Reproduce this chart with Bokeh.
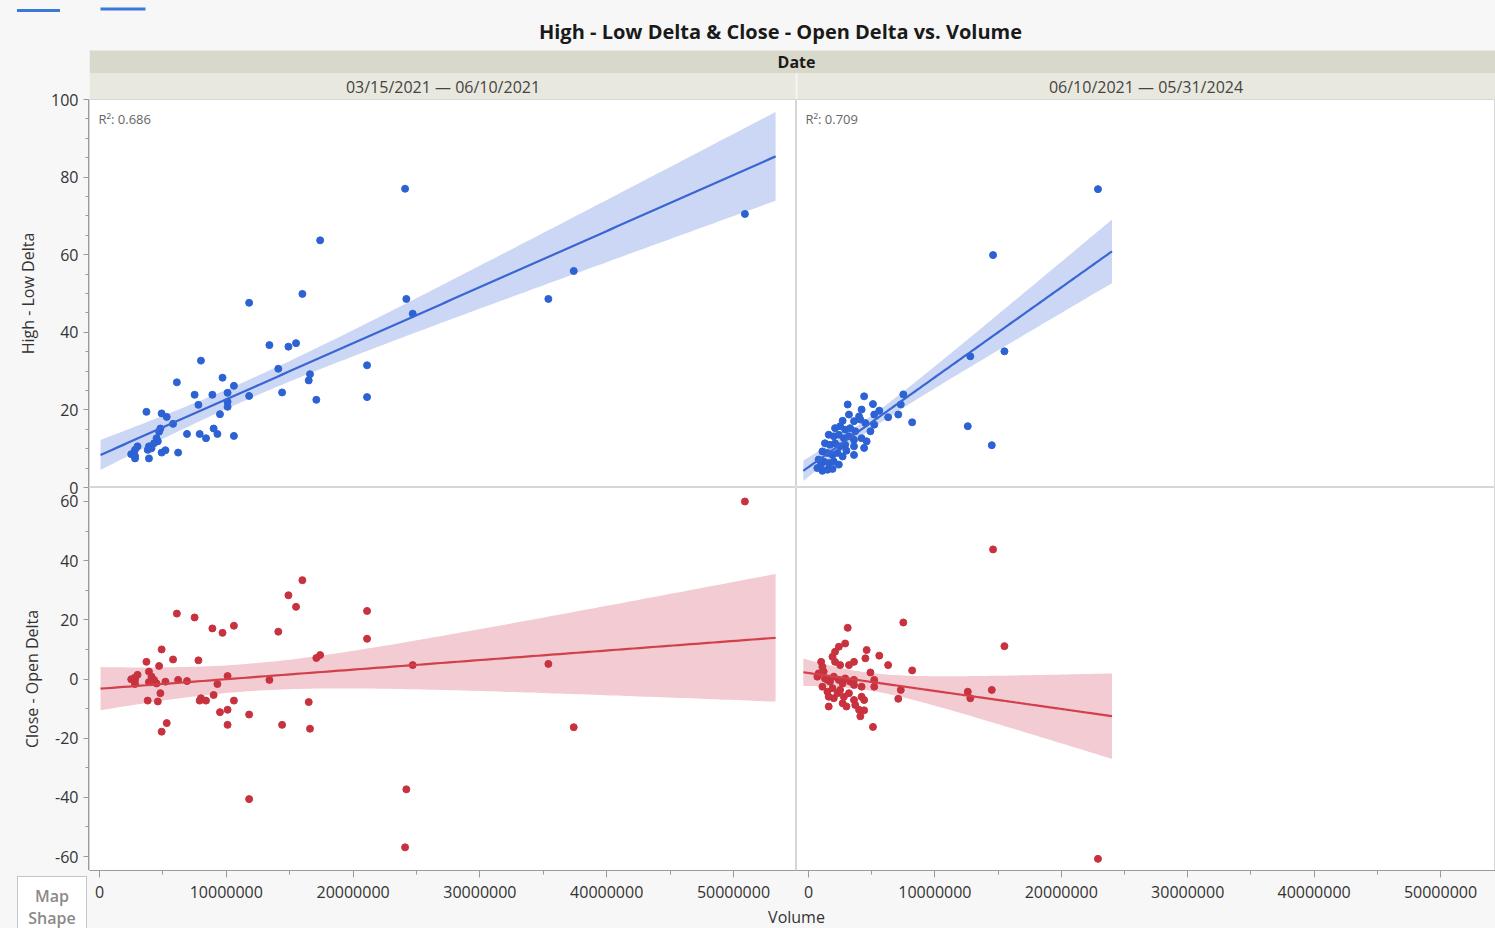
import numpy as np
from bokeh.plotting import figure
from bokeh.models import Range1d, SingleIntervalTicker, BasicTickFormatter, PrintfTickFormatter, Label, Div
from bokeh.layouts import row, column
from bokeh.embed import file_html
from bokeh.resources import INLINE
from bokeh.core.properties import value

FONT = "Open Sans"

# ---------------- texts ----------------
title_text = "High - Low Delta & Close - Open Delta vs. Volume"
group_title = "Date"
period_labels = ["03/15/2021 \u2014 06/10/2021", "06/10/2021 \u2014 05/31/2024"]
r2_labels = ["R\u00b2: 0.686", "R\u00b2: 0.709"]
y_titles = ["High - Low Delta", "Close - Open Delta"]
x_title = "Volume"
map_shape = ["Map", "Shape"]

# ---------------- data (volume in millions of shares) ----------------
p1_volume_m = [24.1, 50.9, 17.4, 11.8, 16.0, 24.2, 24.7, 37.4, 35.4, 13.4, 14.9, 15.5, 8.0, 14.1,
               21.1, 21.1, 16.6, 16.5, 17.1, 14.4, 11.8, 6.1, 9.7, 10.6, 10.1, 10.1, 10.1, 8.9,
               7.5, 7.8, 9.5, 3.7, 4.9, 5.3, 5.8, 4.8, 4.7, 6.9, 7.9, 9.0, 9.3, 8.4, 10.6, 4.5,
               4.6, 4.3, 3.9, 3.8, 4.1, 3.0, 2.8, 2.5, 2.8, 2.8, 3.9, 4.9, 5.2, 6.2]
p1_high_low = [77.0, 70.5, 63.7, 47.6, 49.9, 48.6, 44.8, 55.8, 48.6, 36.7, 36.3, 37.2, 32.7, 30.6,
               31.5, 23.3, 29.2, 27.6, 22.6, 24.5, 23.6, 27.1, 28.3, 26.2, 24.4, 22.1, 20.8, 23.9,
               23.9, 21.3, 18.9, 19.5, 19.1, 18.2, 16.4, 15.2, 14.4, 13.8, 13.8, 15.2, 13.8, 12.7,
               13.3, 12.7, 11.9, 11.4, 10.6, 9.7, 10.1, 10.6, 9.7, 8.6, 8.1, 7.5, 7.5, 9.0, 9.6, 9.0]
p1_close_open = [-56.9, 60.0, 8.1, -40.6, 33.4, -37.3, 4.7, -16.3, 5.1, -0.3, 28.3, 24.4, -6.5, 16.0,
                 23.0, 13.6, -16.8, -7.8, 7.1, -15.5, -12.0, 22.1, 15.6, 18.0, 1.0, -10.4, -15.5, 17.1,
                 20.8, 6.3, -11.2, 5.8, 10.0, -14.9, 6.6, -4.8, 4.4, -0.7, -7.3, -5.4, -1.7, -7.3,
                 -7.3, -1.5, -7.6, -0.3, 2.5, -7.3, 0.8, 1.4, -0.3, -0.1, -1.7, 0.5, -1.0, -17.8, -0.9, -0.3]

p2_volume_m = [22.9, 14.6, 15.5, 12.8, 12.6, 14.5, 8.2, 7.5, 7.3, 7.1, 6.3, 5.6, 5.1, 5.2, 4.9, 4.4, 3.1,
               0.7, 0.8, 1.0, 1.1, 1.1, 1.2, 1.3, 1.5, 1.5, 1.6, 1.6, 1.7, 1.9, 1.9, 2.0, 2.0, 2.1, 2.1,
               2.3, 2.4, 2.4, 2.5, 2.5, 2.7, 2.7, 2.8, 2.9, 2.9, 3.0, 3.2, 3.2, 3.3, 3.6, 3.6, 3.6, 3.6,
               3.7, 4.0, 4.1, 4.2, 4.2, 4.4, 4.5, 4.6, 5.2]
p2_high_low = [76.9, 59.9, 35.1, 33.8, 15.8, 10.9, 16.8, 24.0, 21.4, 18.8, 18.1, 19.8, 21.5, 16.2, 14.5, 23.5, 21.4,
               5.0, 7.2, 6.0, 9.3, 4.3, 6.7, 11.4, 8.9, 4.6, 13.6, 6.3, 11.0, 8.4, 4.8, 13.2, 6.7, 15.3, 11.4,
               8.9, 13.6, 5.9, 15.8, 10.6, 17.2, 8.0, 12.7, 14.9, 11.0, 9.5, 18.8, 13.2, 15.3, 17.1, 12.3, 10.6, 8.4,
               14.5, 18.3, 17.5, 20.1, 12.7, 10.2, 16.6, 11.9, 18.8]
p2_close_open = [-60.8, 43.8, 11.1, -6.5, -4.3, -3.7, 2.9, 19.1, -3.7, -6.7, 4.7, 7.9, -16.2, -2.6, 2.2, -10.6, 17.3,
                 0.8, 1.9, 5.8, 4.1, -2.6, 2.5, 0.2, -4.3, -0.3, -6.0, -9.3, -0.9, -3.1, 7.5, 0.8, -6.5, 9.2, 5.8,
                 -4.8, -0.3, 10.9, -3.7, 4.7, -1.5, -8.2, -6.0, 12.0, 0.2, -9.3, -4.8, 4.7, -0.9, -7.1, -2.0, 5.8, -0.3,
                 -8.8, -10.4, -12.6, -2.6, -6.0, -7.1, 7.0, 9.8, -0.3]

# ---------------- style / layout ----------------
BG = "#f7f7f7"
BAND_DATE = "#d9d9cb"
BAND_COL = "#e8e8de"
OUTLINE = "#d6d6d6"
AXIS = "#9a9a9a"
TXT = "#333333"
BLUE_PT, BLUE_LINE, BLUE_BAND = "#2d62d4", "#3a66d4", "#cbd7f4"
RED_PT, RED_LINE, RED_BAND = "#c8323f", "#d2404c", "#f2ccd2"

LEFT_W = 89
FW = [707, 699]
RIGHT_W = FW[0] + FW[1]
HEAD_H = 99
TOP_H = 388
BOT_H = 383
XAX_H = 35
FOOT_H = 23
TOPDIV_H = 88
L1_TOP, L1_BOT = HEAD_H - TOPDIV_H, 12
L2_TOP = 10
OVERLAP = L1_BOT + L2_TOP    # the two axis strips overlap (transparent) so both end labels fit

x_ranges = [Range1d(-0.79e6, 54.97e6), Range1d(-0.95e6, 54.35e6)]
y_top = Range1d(0, 100)
y_bot = Range1d(-64.73, 64.73)


def fit_band(xm, y):
    x = np.asarray(xm, float)
    y = np.asarray(y, float)
    n = len(x)
    b, a = np.polyfit(x, y, 1)
    s = np.sqrt(np.sum((y - (a + b * x)) ** 2) / (n - 2))
    xbar = x.mean()
    sxx = np.sum((x - xbar) ** 2)
    span = x.max() - x.min()
    xs = np.linspace(x.min() - 0.05 * span, x.max() + 0.05 * span, 120)
    yh = a + b * xs
    se = s * np.sqrt(1.0 / n + (xs - xbar) ** 2 / sxx)
    return xs * 1e6, yh, yh - 2.0 * se, yh + 2.0 * se


def style_axis(ax, tick_out, minor_out):
    ax.axis_line_color = AXIS
    ax.major_tick_line_color = AXIS
    ax.minor_tick_line_color = AXIS
    ax.major_tick_in = 0
    ax.minor_tick_in = 0
    ax.major_tick_out = tick_out
    ax.minor_tick_out = minor_out
    ax.major_label_text_font = FONT
    ax.major_label_text_font_size = "16px"
    ax.major_label_text_color = TXT


def no_grid(f):
    f.xgrid.visible = False
    f.ygrid.visible = False


def panel(col, top, xs, ys, colors):
    fh = TOP_H if top else BOT_H
    p = figure(frame_width=FW[col], frame_height=fh, x_range=x_ranges[col],
               y_range=(y_top if top else y_bot), toolbar_location=None,
               output_backend="svg", min_border_left=0, min_border_right=0,
               min_border_top=0, min_border_bottom=(0 if top else XAX_H),
               x_axis_location=(None if top else "below"), y_axis_location=None,
               background_fill_color="white", border_fill_color=BG,
               outline_line_color=OUTLINE)
    no_grid(p)
    pt, ln, bd = colors
    fx, fy, lo, hi = fit_band(xs, ys)
    p.varea(x=fx, y1=lo, y2=hi, fill_color=bd, fill_alpha=1.0)
    p.scatter(x=np.asarray(xs) * 1e6, y=ys, size=7, fill_color=pt, line_color=pt)
    p.line(x=fx, y=fy, line_color=ln, line_width=2.2)
    if not top:
        ax = p.xaxis[0]
        ax.ticker = SingleIntervalTicker(interval=10e6, num_minor_ticks=2)
        ax.formatter = BasicTickFormatter(use_scientific=False)
        style_axis(ax, 7, 4)
        ax.major_label_standoff = 8
    else:
        p.add_layout(Label(x=9, y=fh - 19, x_units="screen", y_units="screen",
                           text=r2_labels[col], text_font=FONT, text_font_size="13px",
                           text_color="#666666", text_baseline="middle"))
    return p


tl = panel(0, True, p1_volume_m, p1_high_low, (BLUE_PT, BLUE_LINE, BLUE_BAND))
tr = panel(1, True, p2_volume_m, p2_high_low, (BLUE_PT, BLUE_LINE, BLUE_BAND))
bl = panel(0, False, p1_volume_m, p1_close_open, (RED_PT, RED_LINE, RED_BAND))
br = panel(1, False, p2_volume_m, p2_close_open, (RED_PT, RED_LINE, RED_BAND))


def blank(w, h):
    f = figure(frame_width=w, frame_height=h, x_range=Range1d(0, w), y_range=Range1d(h, 0),
               toolbar_location=None, output_backend="svg", min_border=0,
               x_axis_location=None, y_axis_location=None,
               background_fill_color=BG, border_fill_color=BG, outline_line_color=None)
    no_grid(f)
    return f


# header (title, "Date" band, period bands)
head = blank(RIGHT_W, HEAD_H)
head.quad(left=[11], right=[56], top=[7], bottom=[10], fill_color="#3b78d8", line_color=None)
head.quad(left=[0], right=[RIGHT_W], top=[50], bottom=[73], fill_color=BAND_DATE, line_color=None)
head.quad(left=[0], right=[RIGHT_W], top=[73], bottom=[99], fill_color=BAND_COL, line_color=None)
head.segment(x0=[FW[0]], y0=[73], x1=[FW[0]], y1=[99], line_color="#f6f6f0", line_width=2)
head.text(x=[691], y=[31], text=[title_text], text_font=value(FONT),
          text_font_size="20px", text_font_style="bold", text_align="center",
          text_baseline="middle", text_color="#1a1a1a")
head.text(x=[FW[0]], y=[61], text=[group_title], text_font=value(FONT),
          text_font_size="16px", text_font_style="bold", text_align="center",
          text_baseline="middle", text_color="#1a1a1a")
head.text(x=[FW[0] / 2, FW[0] + FW[1] / 2], y=[86, 86], text=period_labels,
          text_font=value(FONT), text_font_size="16px", text_align="center",
          text_baseline="middle", text_color="#444444")

# footer with x-axis title
foot = blank(RIGHT_W, FOOT_H)
foot.text(x=[FW[0]], y=[11], text=[x_title], text_font=value(FONT),
          text_font_size="16px", text_align="center", text_baseline="middle", text_color=TXT)


def yaxis_fig(yr, fh, btop, bbot, interval, minors, label, transparent):
    f = figure(frame_width=1, frame_height=fh, x_range=Range1d(0, 1), y_range=yr,
               toolbar_location=None, output_backend="svg",
               min_border_left=LEFT_W - 1, min_border_right=0,
               min_border_top=btop, min_border_bottom=bbot,
               x_axis_location=None, y_axis_location="left",
               background_fill_color=BG, border_fill_color=BG, outline_line_color=None)
    if transparent:
        f.border_fill_alpha = 0.0
        f.background_fill_alpha = 0.0
    no_grid(f)
    ax = f.yaxis[0]
    ax.ticker = SingleIntervalTicker(interval=interval, num_minor_ticks=minors)
    ax.formatter = PrintfTickFormatter(format="%d")
    style_axis(ax, 5, 3)
    ax.major_label_standoff = 5
    ax.axis_label = label
    ax.axis_label_text_font = FONT
    ax.axis_label_text_font_size = "16px"
    ax.axis_label_text_font_style = "normal"
    ax.axis_label_text_color = TXT
    ax.axis_label_standoff = 9
    f.scatter(x=[0.5], y=[yr.start], size=0, alpha=0)
    return f


top_div = Div(text='<div style="margin:7px 0 0 17px;width:43px;height:3px;background:#3b78d8"></div>',
              width=LEFT_W, height=TOPDIV_H, margin=(0, 0, 0, 0),
              styles={"background-color": BG, "overflow": "hidden"})
l1 = yaxis_fig(y_top, TOP_H, L1_TOP, L1_BOT, 20, 4, y_titles[0], False)
l2 = yaxis_fig(y_bot, BOT_H, L2_TOP, 0, 20, 2, y_titles[1], True)
l2.styles = {"margin-top": f"-{OVERLAP}px"}
map_h = XAX_H + FOOT_H
map_div = Div(text=(f'<div style="margin:6px 0 0 17px;width:70px;height:{map_h}px;background:#ffffff;'
                    f'border:1px solid #c4c4c4;box-sizing:border-box;padding-top:8px;'
                    f'text-align:center;color:#8a8a8a;font-family:\'{FONT}\';font-size:16px;'
                    f'font-weight:600;line-height:22px">{map_shape[0]}<br>{map_shape[1]}</div>'),
              width=LEFT_W, height=map_h, margin=(0, 0, 0, 0),
              styles={"background-color": BG, "overflow": "hidden"})

left_col = column(top_div, l1, l2, map_div, spacing=0)
right_col = column(head, row(tl, tr, spacing=0), row(bl, br, spacing=0), foot, spacing=0)
layout = row(left_col, right_col, spacing=0)
layout.styles = {"background-color": BG}

open("out.html", "w").write(file_html(layout, INLINE))
